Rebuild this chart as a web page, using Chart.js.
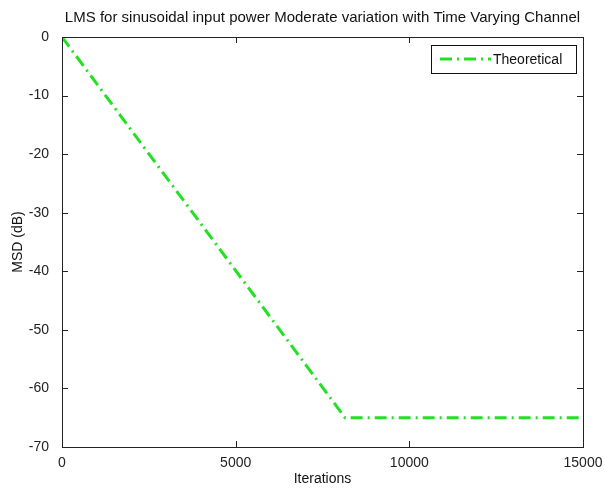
<!DOCTYPE html>
<html>
<head>
<meta charset="utf-8">
<script src="https://cdn.jsdelivr.net/npm/chart.js@4.4.1/dist/chart.umd.min.js"></script>
<style>
  html, body { margin: 0; padding: 0; background: #fff; }
  #wrap { width: 605px; height: 493px; }
</style>
</head>
<body>
<div id="wrap"><canvas id="msdChart" width="605" height="493"></canvas></div>
<script>
// Data
const iterations = [0, 8150, 15000];
const msdTheoretical = [0, -65, -65];
const xTicks = [0, 5000, 10000, 15000];
const yTicks = [0, -10, -20, -30, -40, -50, -60, -70];

const FONT = '"Liberation Sans", Arial, sans-serif';
const GREEN = '#22e022';
const DASH = [12, 5, 2, 5];

// MATLAB style box with inward ticks + legend
const matlabAxes = {
  id: 'matlabAxes',
  afterDraw(chart) {
    const { ctx, chartArea: a, scales } = chart;
    ctx.save();
    ctx.strokeStyle = '#222';
    ctx.lineWidth = 1;
    ctx.strokeRect(a.left + 0.5, a.top + 0.5, a.right - a.left, a.bottom - a.top);
    ctx.beginPath();
    xTicks.forEach(v => {
      const x = Math.round(scales.x.getPixelForValue(v)) + 0.5;
      ctx.moveTo(x, a.bottom); ctx.lineTo(x, a.bottom - 6);
      ctx.moveTo(x, a.top); ctx.lineTo(x, a.top + 6);
    });
    yTicks.forEach(v => {
      const y = Math.round(scales.y.getPixelForValue(v)) + 0.5;
      ctx.moveTo(a.left, y); ctx.lineTo(a.left + 6, y);
      ctx.moveTo(a.right, y); ctx.lineTo(a.right - 6, y);
    });
    ctx.stroke();

    // legend box
    const bx = 431, by = 45, bw = 145, bh = 28;
    ctx.fillStyle = '#fff';
    ctx.fillRect(bx, by, bw, bh);
    ctx.strokeStyle = '#111';
    ctx.strokeRect(bx + 0.5, by + 0.5, bw, bh);
    ctx.strokeStyle = GREEN;
    ctx.lineWidth = 3;
    ctx.setLineDash(DASH);
    ctx.beginPath();
    ctx.moveTo(bx + 9, by + 14); ctx.lineTo(bx + 60, by + 14);
    ctx.stroke();
    ctx.setLineDash([]);
    ctx.fillStyle = '#111';
    ctx.font = '14px ' + FONT;
    ctx.textBaseline = 'middle';
    ctx.fillText(chart.data.datasets[0].label, bx + 62, by + 15);
    ctx.restore();
  }
};

new Chart(document.getElementById('msdChart'), {
  type: 'line',
  data: {
    datasets: [{
      label: 'Theoretical',
      data: iterations.map((x, i) => ({ x: x, y: msdTheoretical[i] })),
      borderColor: GREEN,
      borderWidth: 3,
      borderDash: DASH,
      pointRadius: 0,
      tension: 0,
      fill: false
    }]
  },
  options: {
    responsive: false,
    animation: false,
    layout: { padding: { top: 0, right: 22, bottom: 0, left: 0 } },
    plugins: {
      legend: { display: false },
      tooltip: { enabled: false },
      title: {
        display: true,
        fullSize: false,
        text: 'LMS for sinusoidal input power Moderate variation with Time Varying Channel',
        color: '#111',
        font: { family: FONT, size: 15, weight: 'normal' },
        padding: { top: 9, bottom: 10 }
      }
    },
    scales: {
      x: {
        type: 'linear',
        min: 0, max: 15000,
        afterBuildTicks: s => { s.ticks = xTicks.map(v => ({ value: v })); },
        afterFit: s => { s.height = 46; },
        grid: { display: false },
        border: { display: false },
        ticks: { color: '#222', font: { family: FONT, size: 14 }, padding: 0, maxRotation: 0,
                 callback: v => String(v) },
        title: { display: true, text: 'Iterations', color: '#111', font: { family: FONT, size: 14 }, padding: { top: 0, bottom: 5 } }
      },
      y: {
        min: -70, max: 0,
        afterBuildTicks: s => { s.ticks = yTicks.map(v => ({ value: v })); },
        afterFit: s => { s.width = 62; },
        grid: { display: false },
        border: { display: false },
        ticks: { color: '#222', font: { family: FONT, size: 14 }, padding: 5,
                 callback: v => String(v) },
        title: { display: true, text: 'MSD (dB)', color: '#111', font: { family: FONT, size: 14 }, padding: { top: 10, bottom: 0 } }
      }
    }
  },
  plugins: [matlabAxes]
});
</script>
</body>
</html>
